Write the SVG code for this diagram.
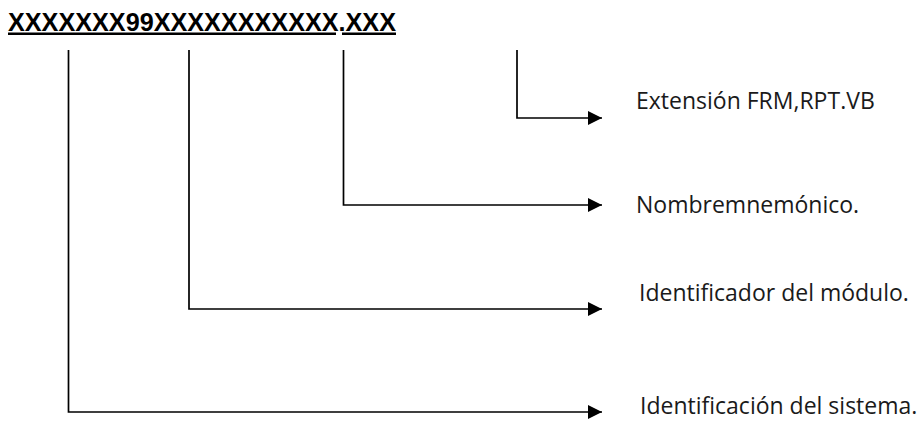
<svg xmlns="http://www.w3.org/2000/svg" width="922" height="421" viewBox="0 0 922 421">
<style>
.title{font-family:"Liberation Sans",Arial,sans-serif;font-weight:bold;font-size:25px;fill:#000}
.lbl{font-family:"Open Sans","Noto Sans",sans-serif;font-size:23px;fill:#1a1a1a}
.ln{fill:none;stroke:#000;stroke-width:1.7}
</style>
<defs>
<marker id="ah" markerUnits="userSpaceOnUse" markerWidth="15" markerHeight="15" refX="14" refY="7" orient="auto">
<path d="M0,0 L14,7 L0,14 Z" fill="#000"/>
</marker>
</defs>
<rect width="922" height="421" fill="#fff"/>
<g id="title">
<text class="title" x="8" y="31" textLength="388" lengthAdjust="spacingAndGlyphs">XXXXXXX99XXXXXXXXXXX.XXX</text>
<rect x="8" y="32.5" width="328" height="2.5" fill="#000"/>
<rect x="342" y="32.5" width="54" height="2.5" fill="#000"/>
</g>
<g id="connectors">
<path class="ln" d="M517,50 V118 H602" marker-end="url(#ah)"/>
<path class="ln" d="M343.5,50 V205 H602" marker-end="url(#ah)"/>
<path class="ln" d="M189,50 V309 H602" marker-end="url(#ah)"/>
<path class="ln" d="M68.5,50 V412 H602" marker-end="url(#ah)"/>
</g>
<g id="n-extension"><text class="lbl" x="636" y="109">Extensión FRM,RPT.VB</text></g>
<g id="n-nombre"><text class="lbl" x="636" y="213">Nombremnemónico.</text></g>
<g id="n-modulo"><text class="lbl" x="639" y="301">Identificador del módulo.</text></g>
<g id="n-sistema"><text class="lbl" x="640" y="414">Identificación del sistema.</text></g>
</svg>
